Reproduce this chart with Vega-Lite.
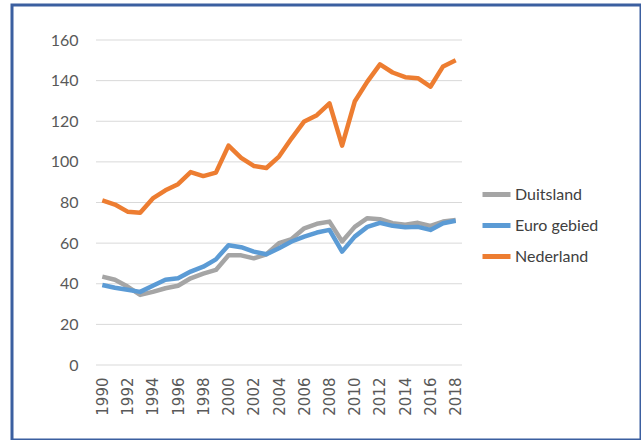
{
  "$schema": "https://vega.github.io/schema/vega-lite/v6.json",
  "width": 629,
  "height": 435,
  "autosize": "none",
  "padding": {"left": 12, "top": 5, "right": 0, "bottom": 0},
  "background": "white",
  "layer": [
    {
      "data": {"values": [{"g": 0}, {"g": 20}, {"g": 40}, {"g": 60}, {"g": 80}, {"g": 100}, {"g": 120}, {"g": 140}, {"g": 160}]},
      "mark": {"type": "rule", "color": "#d9d9d9", "strokeWidth": 1},
      "encoding": {
        "y": {"field": "g", "type": "quantitative", "scale": {"domain": [0, 160], "range": [360, 35], "nice": false, "zero": false},
              "axis": {"values": [0, 20, 40, 60, 80, 100, 120, 140, 160], "offset": -70, "title": null}},
        "x": {"datum": 1989.5, "type": "quantitative", "scale": {"domain": [1989.5, 2018.5], "range": [84, 450], "nice": false, "zero": false}},
        "x2": {"datum": 2018.5}
      }
    },
    {
      "data": {"values": [
        {"year": 1990, "Duitsland": 43.5, "Euro gebied": 39.4, "Nederland": 81},
        {"year": 1991, "Duitsland": 42, "Euro gebied": 38, "Nederland": 79},
        {"year": 1992, "Duitsland": 38.6, "Euro gebied": 37, "Nederland": 75.5},
        {"year": 1993, "Duitsland": 34.5, "Euro gebied": 36, "Nederland": 75},
        {"year": 1994, "Duitsland": 36, "Euro gebied": 39, "Nederland": 82},
        {"year": 1995, "Duitsland": 37.8, "Euro gebied": 42, "Nederland": 86},
        {"year": 1996, "Duitsland": 39, "Euro gebied": 42.7, "Nederland": 89},
        {"year": 1997, "Duitsland": 42.7, "Euro gebied": 46, "Nederland": 95},
        {"year": 1998, "Duitsland": 45, "Euro gebied": 48.4, "Nederland": 93},
        {"year": 1999, "Duitsland": 46.8, "Euro gebied": 52, "Nederland": 94.7},
        {"year": 2000, "Duitsland": 54, "Euro gebied": 59, "Nederland": 108},
        {"year": 2001, "Duitsland": 54, "Euro gebied": 58, "Nederland": 102},
        {"year": 2002, "Duitsland": 52.5, "Euro gebied": 55.8, "Nederland": 98},
        {"year": 2003, "Duitsland": 54.5, "Euro gebied": 54.5, "Nederland": 97},
        {"year": 2004, "Duitsland": 60, "Euro gebied": 57.5, "Nederland": 102.6},
        {"year": 2005, "Duitsland": 62, "Euro gebied": 60.8, "Nederland": 111.6},
        {"year": 2006, "Duitsland": 67.3, "Euro gebied": 63.2, "Nederland": 119.9},
        {"year": 2007, "Duitsland": 69.5, "Euro gebied": 65.2, "Nederland": 123},
        {"year": 2008, "Duitsland": 70.6, "Euro gebied": 66.5, "Nederland": 128.8},
        {"year": 2009, "Duitsland": 60.8, "Euro gebied": 55.8, "Nederland": 108},
        {"year": 2010, "Duitsland": 68, "Euro gebied": 63.2, "Nederland": 129.7},
        {"year": 2011, "Duitsland": 72.3, "Euro gebied": 68, "Nederland": 139.5},
        {"year": 2012, "Duitsland": 71.8, "Euro gebied": 70, "Nederland": 148},
        {"year": 2013, "Duitsland": 69.8, "Euro gebied": 68.5, "Nederland": 144},
        {"year": 2014, "Duitsland": 69, "Euro gebied": 67.8, "Nederland": 141.7},
        {"year": 2015, "Duitsland": 70, "Euro gebied": 68, "Nederland": 141.2},
        {"year": 2016, "Duitsland": 68.5, "Euro gebied": 66.5, "Nederland": 137},
        {"year": 2017, "Duitsland": 70.6, "Euro gebied": 69.8, "Nederland": 147},
        {"year": 2018, "Duitsland": 71.4, "Euro gebied": 71, "Nederland": 150}
      ]},
      "transform": [{"fold": ["Duitsland", "Euro gebied", "Nederland"], "as": ["reeks", "waarde"]}],
      "mark": {"type": "line", "strokeWidth": 4.5, "strokeJoin": "round"},
      "encoding": {
        "x": {"field": "year", "type": "quantitative",
              "scale": {"domain": [1989.5, 2018.5], "range": [84, 450], "nice": false, "zero": false},
              "axis": {"values": [1990, 1992, 1994, 1996, 1998, 2000, 2002, 2004, 2006, 2008, 2010, 2012, 2014, 2016, 2018],
                       "format": "d", "offset": -75, "title": null}},
        "y": {"field": "waarde", "type": "quantitative",
              "scale": {"domain": [0, 160], "range": [360, 35], "nice": false, "zero": false},
              "axis": {"values": [0, 20, 40, 60, 80, 100, 120, 140, 160], "offset": -70, "title": null}},
        "color": {"field": "reeks", "type": "nominal",
                  "scale": {"domain": ["Duitsland", "Euro gebied", "Nederland"], "range": ["#a5a5a5", "#5b9bd5", "#ed7d31"]},
                  "legend": {"title": null}}
      }
    }
  ],
  "resolve": {"scale": {"x": "shared", "y": "shared"}},
  "config": {
    "view": {"stroke": "#3b5fa0", "strokeWidth": 3},
    "axisX": {"domain": false, "ticks": false, "grid": false, "labelAngle": -90, "labelFont": "DejaVu Sans", "labelFontSize": 15, "labelColor": "#595959", "labelPadding": 12, "labelFlush": false, "labelOverlap": false, "labelBound": false},
    "axisY": {"domain": false, "ticks": false, "grid": false, "labelFont": "Lato", "labelFontSize": 16, "labelColor": "#595959", "labelPadding": 4, "labelFlush": false, "labelOverlap": false},
    "legend": {"orient": "none", "legendX": 468, "legendY": 173, "symbolType": "stroke", "symbolSize": 784, "symbolStrokeWidth": 5, "labelFont": "Lato", "labelFontSize": 16, "labelColor": "#404040", "labelOffset": 2, "rowPadding": 4, "padding": 0}
  }
}
